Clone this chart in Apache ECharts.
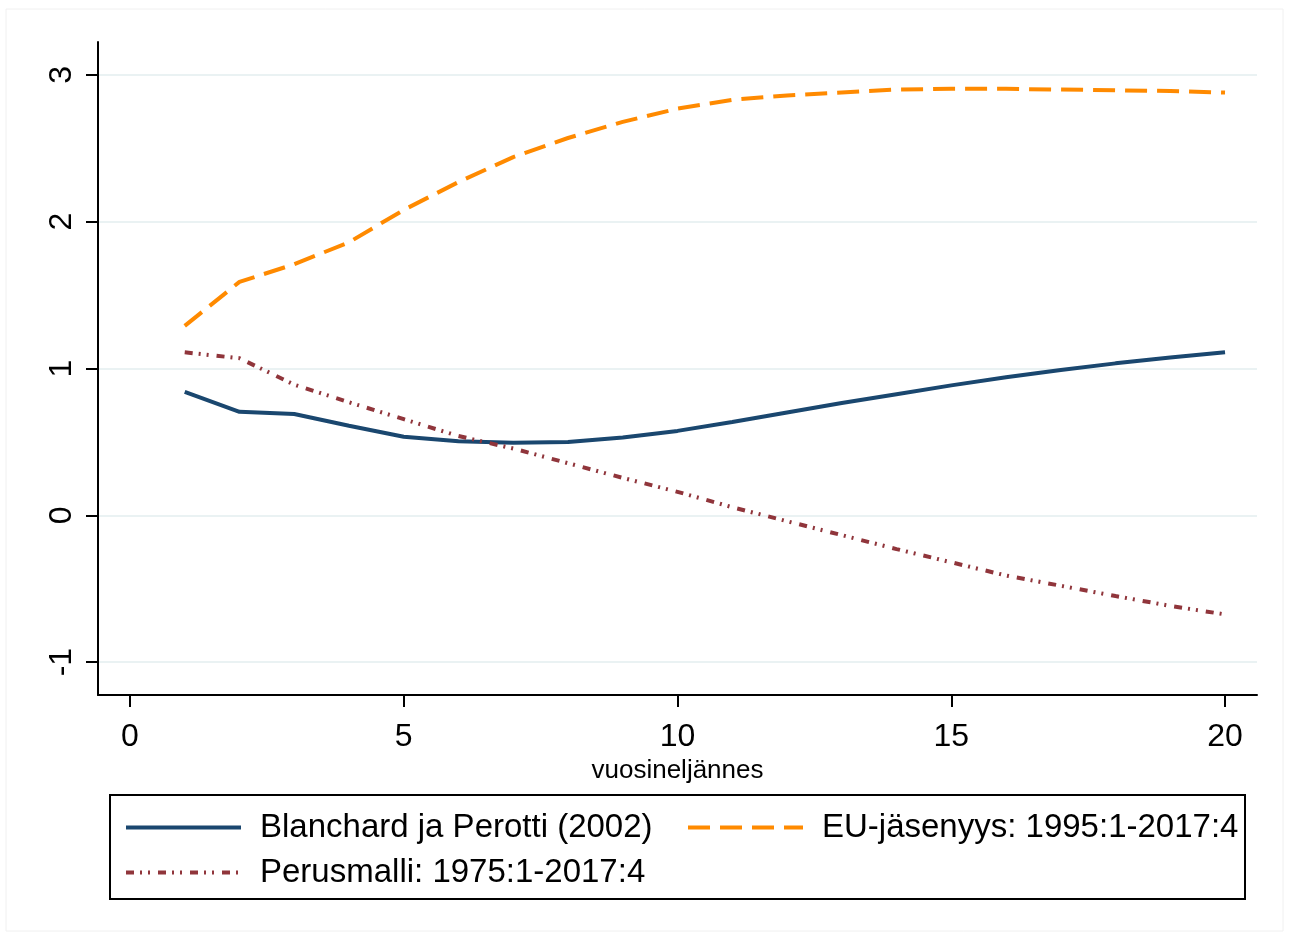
<!DOCTYPE html>
<html>
<head>
<meta charset="utf-8">
<script src="https://cdn.jsdelivr.net/npm/echarts@6/dist/echarts.min.js"></script>
<style>
  html, body { margin: 0; background: #fff; }
  #chart { width: 1289px; height: 938px; }
</style>
</head>
<body>
<div id="chart"></div>
<script>
// vuosineljännes 1..20
const quarters = [1, 2, 3, 4, 5, 6, 7, 8, 9, 10, 11, 12, 13, 14, 15, 16, 17, 18, 19, 20]
const blanchard = [0.84, 0.705, 0.69, 0.61, 0.535, 0.505, 0.495, 0.50, 0.53, 0.575, 0.635, 0.70, 0.765, 0.825, 0.885, 0.94, 0.99, 1.035, 1.075, 1.11]
const euMember = [1.29, 1.59, 1.71, 1.86, 2.08, 2.27, 2.44, 2.57, 2.68, 2.77, 2.83, 2.86, 2.88, 2.90, 2.905, 2.905, 2.90, 2.895, 2.89, 2.88]
const perusmalli = [1.11, 1.07, 0.89, 0.77, 0.655, 0.54, 0.455, 0.355, 0.255, 0.16, 0.055, -0.04, -0.135, -0.23, -0.32, -0.41, -0.48, -0.55, -0.617, -0.675]
const xTicks = [0, 5, 10, 15, 20]
const yTicks = [-1, 0, 1, 2, 3]

const names = ['Blanchard ja Perotti (2002)', 'EU-jäsenyys: 1995:1-2017:4', 'Perusmalli: 1975:1-2017:4']
const font = 'Liberation Sans, Arial, sans-serif'

function pairs(vals) {
  return quarters.map((q, i) => [q, vals[i]])
}

const legendBase = {
  top: 806,
  orient: 'vertical',
  itemWidth: 115,
  itemHeight: 16,
  itemGap: 12,
  itemStyle: { opacity: 0 },
  lineStyle: { width: 4 },
  textStyle: { fontSize: 33, color: '#000', fontFamily: font, padding: [0, 0, 0, 14] }
}

const chart = echarts.init(document.getElementById('chart'))
chart.setOption({
  backgroundColor: '#fff',
  animation: false,
  textStyle: { fontFamily: font },
  grid: { left: 98, right: 32, top: 42, bottom: 243 },
  graphic: [
    {
      type: 'rect',
      shape: { x: 6, y: 9, width: 1277, height: 922 },
      style: { fill: 'none', stroke: '#f0f0f0', lineWidth: 1 },
      silent: true
    },
    {
      type: 'rect',
      shape: { x: 110, y: 795, width: 1135, height: 104 },
      style: { fill: 'none', stroke: '#000', lineWidth: 2 },
      silent: true
    }
  ],
  legend: [
    Object.assign({ left: 119, data: [names[0], names[2]] }, legendBase),
    Object.assign({ left: 681, data: [names[1]] }, legendBase)
  ],
  xAxis: {
    type: 'value',
    min: -0.584,
    max: 20.584,
    name: 'vuosineljännes',
    nameLocation: 'middle',
    nameGap: 58,
    nameTextStyle: { fontSize: 26, color: '#000', fontFamily: font },
    axisLine: { show: true, onZero: false, lineStyle: { color: '#000', width: 2 } },
    axisTick: { show: true, length: 12, customValues: xTicks, lineStyle: { color: '#000', width: 2 } },
    axisLabel: { customValues: xTicks, fontSize: 32, color: '#000', margin: 26, fontFamily: font },
    splitLine: { show: false }
  },
  yAxis: {
    type: 'value',
    min: -1.224,
    max: 3.224,
    axisLine: { show: true, onZero: false, lineStyle: { color: '#000', width: 2 } },
    axisTick: { show: true, length: 12, customValues: yTicks, lineStyle: { color: '#000', width: 2 } },
    axisLabel: { customValues: yTicks, rotate: 90, fontSize: 32, color: '#000', margin: 20, fontFamily: font },
    splitLine: { show: true, lineStyle: { color: '#eaf2f3', width: 2 } }
  },
  series: [
    {
      name: names[0],
      type: 'line',
      symbol: 'none',
      color: '#1a476f',
      lineStyle: { width: 4, color: '#1a476f' },
      emphasis: { disabled: true },
      data: pairs(blanchard)
    },
    {
      name: names[1],
      type: 'line',
      symbol: 'none',
      color: '#ff8a00',
      lineStyle: { width: 4, color: '#ff8a00', type: [22, 10] },
      emphasis: { disabled: true },
      data: pairs(euMember)
    },
    {
      name: names[2],
      type: 'line',
      symbol: 'none',
      color: '#90353b',
      lineStyle: { width: 4, color: '#90353b', type: [8, 6, 2, 6, 2, 8] },
      emphasis: { disabled: true },
      data: pairs(perusmalli)
    }
  ]
})
</script>
</body>
</html>
